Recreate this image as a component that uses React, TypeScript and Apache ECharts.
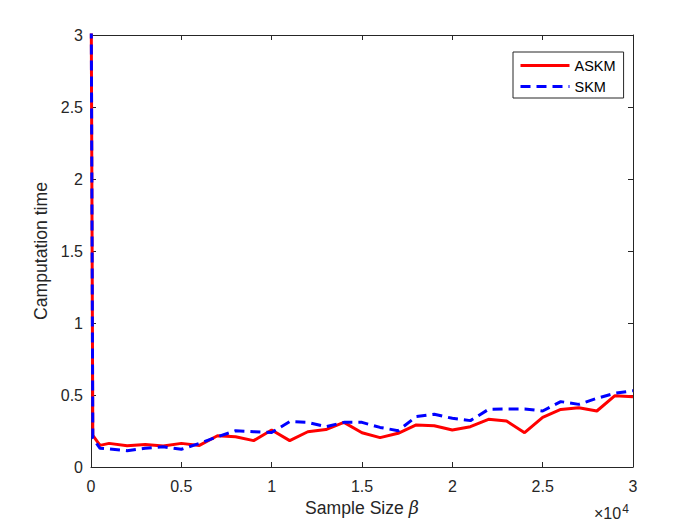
import React, { useEffect, useRef } from "react";
import * as echarts from "echarts";

const sampleSizes = [0, 100, 500, 1000, 2000, 3000, 4000, 5000, 6000, 7000, 8000, 9000, 10000, 11000, 12000, 13000, 14000, 15000, 16000, 17000, 18000, 19000, 20000, 21000, 22000, 23000, 24000, 25000, 26000, 27000, 28000, 29000, 30000];
const askmTimes = [3.6, 0.22, 0.15, 0.164, 0.148, 0.157, 0.146, 0.164, 0.15, 0.217, 0.21, 0.183, 0.257, 0.183, 0.245, 0.26, 0.31, 0.238, 0.204, 0.234, 0.292, 0.287, 0.257, 0.28, 0.331, 0.319, 0.238, 0.345, 0.4, 0.412, 0.389, 0.495, 0.488];
const skmTimes = [3.6, 0.2, 0.13, 0.125, 0.113, 0.13, 0.14, 0.123, 0.164, 0.21, 0.252, 0.245, 0.24, 0.315, 0.31, 0.28, 0.31, 0.31, 0.275, 0.252, 0.35, 0.366, 0.338, 0.322, 0.4, 0.403, 0.403, 0.389, 0.454, 0.435, 0.477, 0.512, 0.53];
const seriesNames = ["ASKM", "SKM"];

const FONT = "'Liberation Sans', Arial, Helvetica, sans-serif";
const AX = "#262626";

export default function App() {
  const ref = useRef<HTMLDivElement>(null);
  useEffect(() => {
    if (!ref.current) return;
    const chart = echarts.init(ref.current, undefined, { renderer: "svg" });
    const pair = (ys: number[]) => sampleSizes.map((x, i) => [x, ys[i]]);
    const tickStyle = { show: true, inside: true, length: 5, lineStyle: { color: AX, width: 1 } };
    chart.setOption({
      animation: false,
      backgroundColor: "#ffffff",
      textStyle: { fontFamily: FONT },
      grid: { left: 91, right: 67, top: 35, bottom: 58, containLabel: false },
      legend: {
        orient: "vertical",
        left: 513,
        top: 52,
        width: 116,
        padding: [6, 8, 4, 6],
        itemGap: 6,
        itemWidth: 49,
        itemHeight: 14,
        borderColor: AX,
        borderWidth: 1,
        backgroundColor: "#ffffff",
        itemStyle: { opacity: 0 },
        lineStyle: { width: 3 },
        textStyle: { fontFamily: FONT, fontSize: 14.5, color: "#000", width: 52 },
        data: seriesNames,
      },
      xAxis: [
        {
          type: "value",
          min: 0,
          max: 30000,
          interval: 5000,
          axisLine: { show: true, onZero: false, lineStyle: { color: AX, width: 1 } },
          axisTick: tickStyle,
          splitLine: { show: false },
          axisLabel: {
            color: AX,
            fontSize: 16,
            fontFamily: FONT,
            margin: 11,
            formatter: (v: number) => String(v / 10000),
          },
          name: "Sample Size {i|β}",
          nameLocation: "middle",
          nameGap: 32,
          nameTextStyle: {
            color: AX,
            fontSize: 17.6,
            fontFamily: FONT,
            rich: { i: { fontStyle: "italic", fontSize: 17.6, fontFamily: "'DejaVu Serif', serif", color: AX } },
          },
        },
        {
          type: "value",
          position: "top",
          min: 0,
          max: 30000,
          interval: 5000,
          axisLine: { show: true, onZero: false, lineStyle: { color: AX, width: 1 } },
          axisTick: tickStyle,
          axisLabel: { show: false },
          splitLine: { show: false },
        },
      ],
      yAxis: [
        {
          type: "value",
          min: 0,
          max: 3,
          interval: 0.5,
          axisLine: { show: true, onZero: false, lineStyle: { color: AX, width: 1 } },
          axisTick: tickStyle,
          splitLine: { show: false },
          axisLabel: { color: AX, fontSize: 16, fontFamily: FONT, margin: 8 },
          name: "Camputation time",
          nameLocation: "middle",
          nameGap: 36,
          nameTextStyle: { color: AX, fontSize: 17.6, fontFamily: FONT },
        },
        {
          type: "value",
          position: "right",
          min: 0,
          max: 3,
          interval: 0.5,
          axisLine: { show: true, onZero: false, lineStyle: { color: AX, width: 1 } },
          axisTick: tickStyle,
          axisLabel: { show: false },
          splitLine: { show: false },
        },
      ],
      graphic: [
        {
          type: "text",
          left: 594,
          top: 503,
          style: {
            text: "×10{s|4}",
            fill: AX,
            fontSize: 16,
            fontFamily: FONT,
            rich: { s: { fontSize: 12, verticalAlign: "top", padding: [0, 0, 9, 1], fill: AX, fontFamily: FONT } },
          },
        },
      ],
      series: [
        {
          name: seriesNames[0],
          type: "line",
          data: pair(askmTimes),
          showSymbol: false,
          symbol: "none",
          clip: true,
          color: "#ff0000",
          lineStyle: { color: "#ff0000", width: 3 },
        },
        {
          name: seriesNames[1],
          type: "line",
          data: pair(skmTimes),
          showSymbol: false,
          symbol: "none",
          clip: true,
          color: "#0000ff",
          lineStyle: { color: "#0000ff", width: 3, type: [10, 6] },
        },
      ],
    });
    return () => chart.dispose();
  }, []);
  return <div ref={ref} style={{ width: 700, height: 525, position: "absolute", left: 0, top: 0 }} />;
}
